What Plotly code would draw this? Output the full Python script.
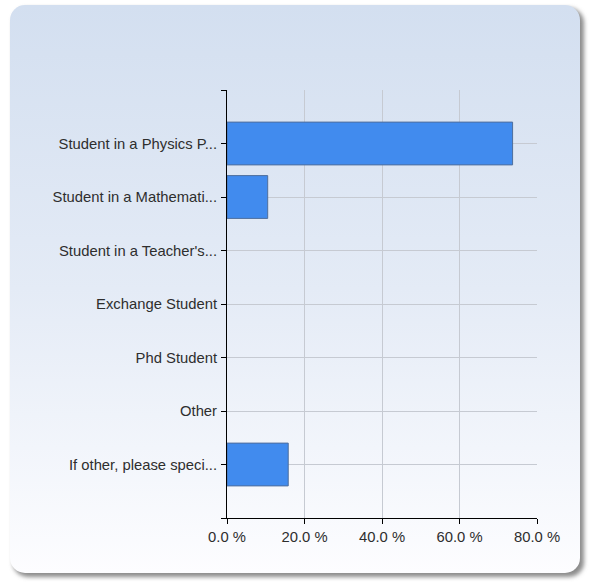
import base64
import plotly.graph_objects as go

# Survey responses: share of respondents per status (percent)
categories = [
    "Student in a Physics P...",
    "Student in a Mathemati...",
    "Student in a Teacher's...",
    "Exchange Student",
    "Phd Student",
    "Other",
    "If other, please speci...",
]
percent = [73.7, 10.5, 0.0, 0.0, 0.0, 0.0, 15.8]
x_ticks = [0, 20, 40, 60, 80]

W, H = 592, 582
L, R, T, B = 227, 55, 90, 64
PW, PH = W - L - R, H - T - B

# Rounded panel with a soft vertical gradient and drop shadow
svg = f"""<svg xmlns='http://www.w3.org/2000/svg' width='{W}' height='{H}' viewBox='0 0 {W} {H}' preserveAspectRatio='none'>
<defs>
<linearGradient id='g' x1='0' y1='0' x2='0' y2='1'>
<stop offset='0' stop-color='#d3dff0'/>
<stop offset='0.5' stop-color='#e4ebf6'/>
<stop offset='1' stop-color='#fdfdff'/>
</linearGradient>
<filter id='s' x='-5%' y='-5%' width='110%' height='110%'><feGaussianBlur stdDeviation='2.2'/></filter>
</defs>
<rect x='0' y='0' width='{W}' height='{H}' fill='#ffffff'/>
<rect x='13' y='8' width='571' height='569' rx='15' ry='15' fill='#8c8c8c' filter='url(#s)'/>
<rect x='10' y='5' width='570' height='568' rx='15' ry='15' fill='url(#g)'/>
</svg>"""
svg_uri = "data:image/svg+xml;base64," + base64.b64encode(svg.encode()).decode()

idx = list(range(len(categories)))

fig = go.Figure(
    go.Bar(
        x=percent,
        y=idx,
        orientation="h",
        width=0.8,
        marker=dict(
            color="#418bee",
            line=dict(color="#4f6e9c", width=[1 if v > 0 else 0 for v in percent]),
        ),
        hoverinfo="x+text",
        text=categories,
        textposition="none",
    )
)

fig.update_layout(
    width=W,
    height=H,
    margin=dict(l=L, r=R, t=T, b=B, pad=0),
    paper_bgcolor="#ffffff",
    plot_bgcolor="rgba(0,0,0,0)",
    showlegend=False,
    font=dict(family="Arial, Liberation Sans, sans-serif", size=14.8, color="#2e2e2e"),
    images=[
        dict(
            source=svg_uri,
            xref="paper",
            yref="paper",
            x=-L / PW,
            y=(PH + T) / PH,
            sizex=W / PW,
            sizey=H / PH,
            xanchor="left",
            yanchor="top",
            sizing="stretch",
            layer="below",
        )
    ],
    xaxis=dict(
        range=[0, 80],
        tickvals=x_ticks,
        ticktext=[f"{v:.1f} %" for v in x_ticks],
        showgrid=True,
        gridcolor="#c6cad2",
        gridwidth=1,
        zeroline=False,
        showline=True,
        linecolor="#000000",
        linewidth=1,
        ticks="outside",
        ticklen=5,
        tickcolor="#000000",
        fixedrange=True,
    ),
    yaxis=dict(
        range=[len(categories), -1],
        tickvals=list(range(-1, len(categories) + 1)),
        ticktext=[""] + categories + [""],
        showgrid=True,
        gridcolor="#c6cad2",
        gridwidth=1,
        zeroline=False,
        showline=True,
        linecolor="#000000",
        linewidth=1,
        ticks="outside",
        ticklen=5,
        tickcolor="#000000",
        ticklabelstandoff=1,
        fixedrange=True,
    ),
)

fig.write_html("out.html")
